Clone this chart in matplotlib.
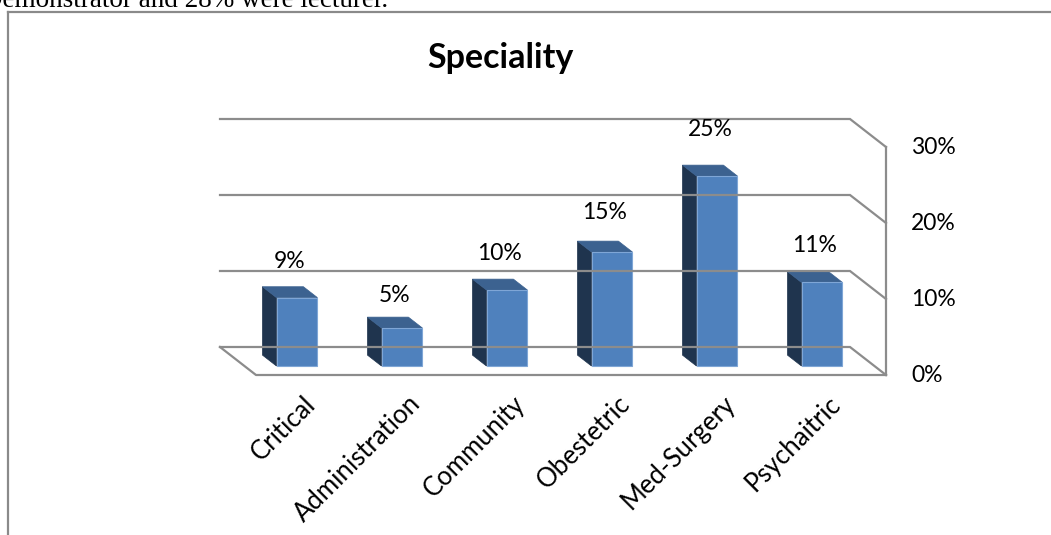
import matplotlib.pyplot as plt
from matplotlib.patches import Polygon
from matplotlib.lines import Line2D

plt.rcParams['font.family'] = ['Lato', 'DejaVu Sans']

categories = ['Critical', 'Administration', 'Community', 'Obestetric', 'Med-Surgery', 'Psychaitric']
values = [9, 5, 10, 15, 25, 11]
labels = ['9%', '5%', '10%', '15%', '25%', '11%']
yticks = [0, 10, 20, 30]
ytick_labels = ['0%', '10%', '20%', '30%']

# oblique "3d" look: depth z goes 0 (back wall) -> 1 (front edge)
KX = 36 / 105.0
KY = 28 / 7.6
W = 0.39
ZB, ZF = 0.29, 0.68
GRID = '#8c8c8c'


def proj(c, v, z):
    return c + KX * z, v - KY * z


fig = plt.figure(figsize=(10.51, 5.35), dpi=100)
ax = fig.add_axes([220 / 1051, 188 / 535, 630 / 1051, 228 / 535])
ax.set_xlim(0, len(categories))
ax.set_ylim(0, 30)
ax.axis('off')

n = len(categories)

# back wall gridlines with the turn towards the front at the right
for v in yticks:
    pts = [proj(0, v, 0), proj(n, v, 0), proj(n, v, 1)]
    ax.plot([p[0] for p in pts], [p[1] for p in pts], color=GRID, lw=1.6,
            clip_on=False, solid_joinstyle='miter')

# floor
pts = [proj(0, 0, 0), proj(0, 0, 1), proj(n, 0, 1)]
ax.plot([p[0] for p in pts], [p[1] for p in pts], color=GRID, lw=1.6, clip_on=False)

# right value axis
p0, p1 = proj(n, 0, 1), proj(n, 30, 1)
ax.plot([p0[0], p1[0]], [p0[1], p1[1]], color=GRID, lw=1.6, clip_on=False)
for v, lab in zip(yticks, ytick_labels):
    x, y = proj(n, v, 1)
    ax.annotate('', xy=(x, y), xytext=(8, 0), textcoords='offset pixels',
                arrowprops=dict(arrowstyle='-', color=GRID, lw=1.6,
                                shrinkA=0, shrinkB=0))
    ax.annotate(lab, xy=(x, y), xytext=(25, 0), textcoords='offset pixels',
                ha='left', va='center', fontsize=16.5, annotation_clip=False)

# category ticks
for i in range(n + 1):
    x, y = proj(i, 0, 1)
    ax.annotate('', xy=(x, y), xytext=(0, -8), textcoords='offset pixels',
                arrowprops=dict(arrowstyle='-', color=GRID, lw=1.6,
                                shrinkA=0, shrinkB=0))

# bars
for i, v in enumerate(values):
    c0, c1 = i + 0.5 - W / 2, i + 0.5 + W / 2
    side = [proj(c0, 0, ZB), proj(c0, v, ZB), proj(c0, v, ZF), proj(c0, 0, ZF)]
    top = [proj(c0, v, ZB), proj(c1, v, ZB), proj(c1, v, ZF), proj(c0, v, ZF)]
    front = [proj(c0, 0, ZF), proj(c1, 0, ZF), proj(c1, v, ZF), proj(c0, v, ZF)]
    ax.add_patch(Polygon(side, closed=True, fc='#1f344e', ec='#1f344e', lw=0.5, clip_on=False))
    ax.add_patch(Polygon(top, closed=True, fc='#3c6290', ec='#3c6290', lw=0.5, clip_on=False))
    ax.add_patch(Polygon(front, closed=True, fc='#4f81bd', ec='#7fa6d6', lw=0.8, clip_on=False))

# value labels
for i, (v, lab) in enumerate(zip(values, labels)):
    x, y = proj(i + 0.5, v, (ZB + ZF) / 2)
    ax.annotate(lab, xy=(x, y), xytext=(0, 24 + 0.7 * v), textcoords='offset pixels',
                ha='center', va='center', fontsize=16.5, annotation_clip=False)

# category labels
for i, cat in enumerate(categories):
    x, y = proj(i + 0.5, 0, 1)
    ax.annotate(cat, xy=(x, y), xytext=(3, -25), textcoords='offset pixels',
                ha='right', va='center', rotation=45, rotation_mode='anchor',
                fontsize=18.5, annotation_clip=False)

fig.text(500 / 1051, 1 - 58 / 535, 'Speciality', ha='center', va='center',
         fontsize=24.5, fontweight='bold')

# text of the page above the chart, cut off by the crop
fig.text(388 / 1051, 1 - 7 / 535, 'Demonstrator and 28% were lecturer.',
         ha='right', va='baseline', fontsize=19.5, family='Liberation Serif')

# chart frame
fig.add_artist(Line2D([8 / 1051, 8 / 1051], [0, 1 - 12 / 535], color='#8a8a8a', lw=1.6))
fig.add_artist(Line2D([8 / 1051, 1], [1 - 12 / 535, 1 - 12 / 535], color='#8a8a8a', lw=1.6))

fig.savefig('out.png', dpi=100)
